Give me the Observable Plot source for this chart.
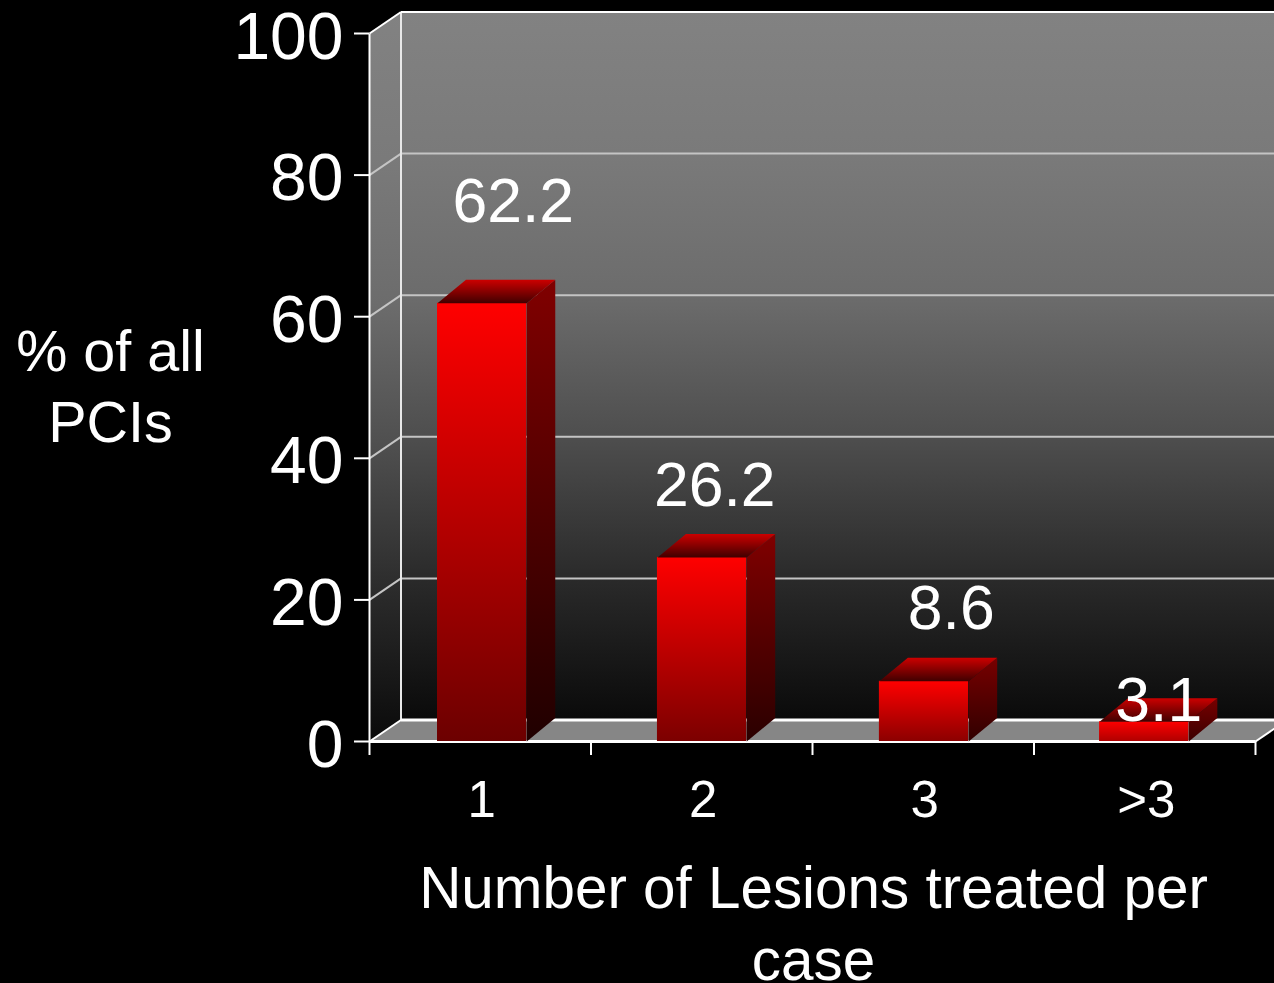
<!DOCTYPE html>
<html>
<head>
<meta charset="utf-8">
<script src="https://cdn.jsdelivr.net/npm/d3@7"></script>
<script src="https://cdn.jsdelivr.net/npm/@observablehq/plot@0.6"></script>
<style>
html,body{margin:0;padding:0;background:#000;overflow:hidden;width:1274px;height:983px}
svg{display:block}
</style>
</head>
<body>
<div id="chart"></div>
<script>
const categories = ["1", "2", "3", ">3"];
const labelValues = [62.2, 26.2, 8.6, 3.1];
const barHeights = [61.9, 26.0, 8.5, 2.8];
const yTicks = [0, 20, 40, 60, 80, 100];
const xEdges = [0, 1, 2, 3, 4];
const barStarts = [0.307, 1.3, 2.302, 3.296];
const yTitle = "% of all\nPCIs";
const xTitle = "Number of Lesions treated per\ncase";

// Presentation constants
const barWidth = 0.403;
const wallDX = 31.5 / 221.5, wallDY = 21.5 / 7.08;
const barDX = 28.5 / 221.5, barDY = 23.5 / 7.08;
const labelOffsets = [[33, -99.5], [13, -70], [28, -72], [14, -19]];
const frontEnds = ["#6c0000", "#7c0000", "#8c0000", "#b00000"];
const sideTops = ["#800000", "#800000", "#780000", "#780000"];
const sideEnds = ["#200000", "#2a0000", "#300000", "#3a0000"];
const wallStops = [[0, "#828282"], [0.2, "#7a7a7a"], [0.4, "#6c6c6c"], [0.6, "#4e4e4e"], [0.8, "#2a2a2a"], [1, "#0a0a0a"]];
const gridGrey = "#c4c4c4";
const font = "'Liberation Sans', Arial, sans-serif";

function grad(id, stops) {
  return `<linearGradient id="${id}" x1="0" y1="0" x2="0" y2="1">` +
    stops.map(([o, c]) => `<stop offset="${o}" stop-color="${c}"/>`).join("") + `</linearGradient>`;
}
const defsMark = () => {
  const g = d3.create("svg:g");
  g.html("<defs>" +
    grad("wall", wallStops) +
    grad("side", wallStops) +
    grad("topFace", [[0, "#cc0000"], [1, "#400000"]]) +
    categories.map((_, i) =>
      grad("front" + i, [[0, "#ff0000"], [1, frontEnds[i]]]) +
      grad("sideFace" + i, [[0, sideTops[i]], [1, sideEnds[i]]])).join("") +
    "</defs>");
  return g.node();
};

const face = (pts, fill) =>
  Plot.line(pts, {x: d => d[0], y: d => d[1], fill, stroke: "none"});
const seg = (x1, y1, x2, y2, stroke, strokeWidth) =>
  Plot.link([0], {x1: () => x1, y1: () => y1, x2: () => x2, y2: () => y2, stroke, strokeWidth});

const xMax = xEdges[xEdges.length - 1], yMax = yTicks[yTicks.length - 1];

const marks = [
  defsMark,
  // Walls and floor
  face([[wallDX, wallDY], [xMax + wallDX, wallDY], [xMax + wallDX, yMax + wallDY], [wallDX, yMax + wallDY]], "url(#wall)"),
  face([[0, 0], [wallDX, wallDY], [wallDX, yMax + wallDY], [0, yMax]], "url(#side)"),
  face([[0, 0], [wallDX, wallDY], [xMax + wallDX, wallDY], [xMax, 0]], "#868686"),
  // Gridlines
  ...yTicks.slice(1, -1).flatMap(t => [
    seg(0, t, wallDX, t + wallDY, gridGrey, 2),
    seg(wallDX, t + wallDY, xMax + wallDX, t + wallDY, gridGrey, 2)
  ]),
  // Wall frame
  seg(wallDX, wallDY, wallDX, yMax + wallDY, "#e8e8e8", 2),
  seg(wallDX, yMax + wallDY, xMax + wallDX, yMax + wallDY, "#fff", 2),
  seg(0, yMax, wallDX, yMax + wallDY, "#fff", 2),
  seg(wallDX, wallDY, xMax + wallDX, wallDY, "#fff", 3),
  seg(0, 0, wallDX, wallDY, "#fff", 2),
  seg(xMax, 0, xMax + wallDX, wallDY, "#fff", 2),
  seg(0, 0, 0, yMax, "#fff", 2),
  seg(0, 0, xMax, 0, "#fff", 3),
  // Axis ticks
  Plot.axisY(yTicks, {tickSize: 15, stroke: "#fff", strokeWidth: 2, fill: "none", label: null}),
  Plot.axisX(xEdges, {tickSize: 14, stroke: "#fff", strokeWidth: 2, fill: "none", label: null}),
  // 3D bars
  ...categories.flatMap((c, i) => {
    const x0 = barStarts[i], x1 = x0 + barWidth, v = barHeights[i];
    return [
      Plot.rect([c], {x1: () => x0, x2: () => x1, y1: () => 0, y2: () => v, fill: `url(#front${i})`}),
      face([[x1, 0], [x1 + barDX, barDY], [x1 + barDX, v + barDY], [x1, v]], `url(#sideFace${i})`),
      face([[x0, v], [x0 + barDX, v + barDY], [x1 + barDX, v + barDY], [x1, v]], "url(#topFace)")
    ];
  }),
  // Y tick labels
  Plot.axisY(yTicks, {
    tickSize: 0, tickPadding: 26, dy: 4, fill: "#fff", stroke: "none", fontSize: 66,
    fontFamily: font, label: null, tickFormat: d => String(d)
  }),
  // Category labels
  Plot.text(categories, {
    x: (d, i) => xEdges[i] + 0.5, y: () => 0, text: d => d, dx: 1.5, dy: 59,
    fill: "#fff", fontSize: 51, fontFamily: font
  }),
  // Value labels
  ...labelValues.map((v, i) => Plot.text([v], {
    x: () => xEdges[i] + 0.5, y: () => v, text: d => d.toFixed(1),
    dx: labelOffsets[i][0], dy: labelOffsets[i][1],
    fill: "#fff", fontSize: 62.5, fontFamily: font
  })),
  // Titles
  Plot.text([xTitle], {
    x: () => 2, y: () => 0, text: d => d, dx: 1, dy: 179.5, lineHeight: 1.233,
    fill: "#fff", fontSize: 58.4, fontFamily: font
  }),
  Plot.text([yTitle], {
    frameAnchor: "left", dx: -259, dy: -3.5, text: d => d, lineHeight: 1.235,
    fill: "#fff", fontSize: 57.5, fontFamily: font, textAnchor: "middle"
  })
];

const chart = Plot.plot({
  width: 1274,
  height: 983,
  marginLeft: 369,
  marginRight: 19,
  marginTop: 33,
  marginBottom: 242,
  x: {domain: [0, xMax], axis: null},
  y: {domain: [0, yMax], axis: null},
  style: {background: "#000", color: "#fff", fontFamily: font},
  marks
});
document.getElementById("chart").append(chart);
</script>
</body>
</html>
